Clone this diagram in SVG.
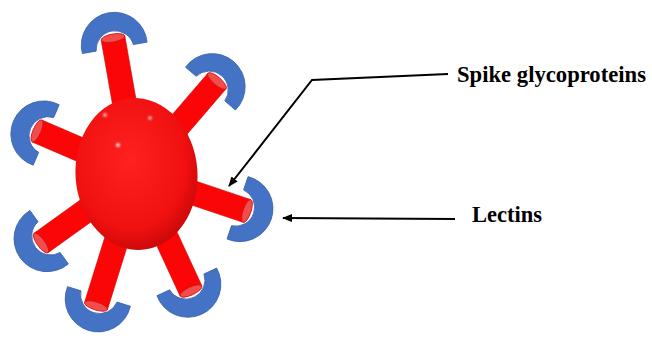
<svg xmlns="http://www.w3.org/2000/svg" width="652" height="339" viewBox="0 0 652 339">
  <style>
    .stalk { fill: #fb0606; stroke: #d60000; stroke-width: 0.6; }
    .cap { fill: #f24d4d; stroke: #d01010; stroke-width: 0.8; }
    .lectin { fill: #4472c4; stroke: #3a63ad; stroke-width: 0.8; }
    .lead { fill: none; stroke: #000; stroke-width: 2; }
    .label { font-family: "Liberation Serif", "Times New Roman", serif; font-weight: bold; fill: #000; }
  </style>
  <defs>
    <radialGradient id="body" cx="0.45" cy="0.4" r="0.62">
      <stop offset="0" stop-color="#ff2020"/>
      <stop offset="0.75" stop-color="#f01010"/>
      <stop offset="1" stop-color="#c80808"/>
    </radialGradient>
    <marker id="tip" viewBox="0 0 10 8" refX="9" refY="4" markerWidth="5" markerHeight="4" orient="auto">
      <path d="M0,0 L10,4 L0,8 Z" fill="#000"/>
    </marker>
    <!-- one spike with its bound lectin, axis pointing up from the spike end at 0,0 -->
    <g id="spike-unit">
      <rect class="stalk" x="-12" y="0" width="24" height="100"/>
      <ellipse class="cap" cx="0" cy="0" rx="12" ry="4"/>
      <path class="lectin" d="M-32.9,10 A33,33 0 1 1 32.9,10 L18.9,10 A19,19 0 0 0 -18.9,10 Z"/>
    </g>
    <filter id="soft" x="-1" y="-1" width="3" height="3">
      <feGaussianBlur stdDeviation="0.9"/>
    </filter>
  </defs>

  <rect width="652" height="339" fill="#fff"/>

  <g id="particle">
    <g id="spike-top"><use href="#spike-unit" transform="translate(113,38) rotate(-10)"/></g>
    <g id="spike-upper-right"><use href="#spike-unit" transform="translate(217,81) rotate(40.7)"/></g>
    <g id="spike-left"><use href="#spike-unit" transform="translate(37,131) rotate(-66.7)"/></g>
    <g id="spike-right"><use href="#spike-unit" transform="translate(247,211) rotate(108.6)"/></g>
    <g id="spike-lower-left"><use href="#spike-unit" transform="translate(41,243) rotate(234.3)"/></g>
    <g id="spike-bottom"><use href="#spike-unit" transform="translate(96,306) rotate(197.3)"/></g>
    <g id="spike-lower-right"><use href="#spike-unit" transform="translate(191,291) rotate(155.2)"/></g>

    <g id="core">
      <ellipse cx="136.5" cy="174" rx="61" ry="76" transform="rotate(-4 136.5 174)" fill="url(#body)"/>
      <g fill="#fff" filter="url(#soft)">
        <circle cx="105" cy="115" r="1.8" opacity="0.8"/>
        <circle cx="150" cy="118" r="1.8" opacity="0.8"/>
        <circle cx="118" cy="145" r="2" opacity="0.9"/>
      </g>
    </g>
  </g>

  <g id="connectors">
    <path class="lead" d="M448,74 L312,80 L229,186" marker-end="url(#tip)"/>
    <path class="lead" d="M455,219 L283,218" marker-end="url(#tip)"/>
  </g>

  <g id="label-spike">
    <text class="label" x="457" y="82" font-size="23" textLength="189" lengthAdjust="spacingAndGlyphs">Spike glycoproteins</text>
  </g>
  <g id="label-lectins">
    <text class="label" x="472" y="222" font-size="24" textLength="70" lengthAdjust="spacingAndGlyphs">Lectins</text>
  </g>
</svg>
